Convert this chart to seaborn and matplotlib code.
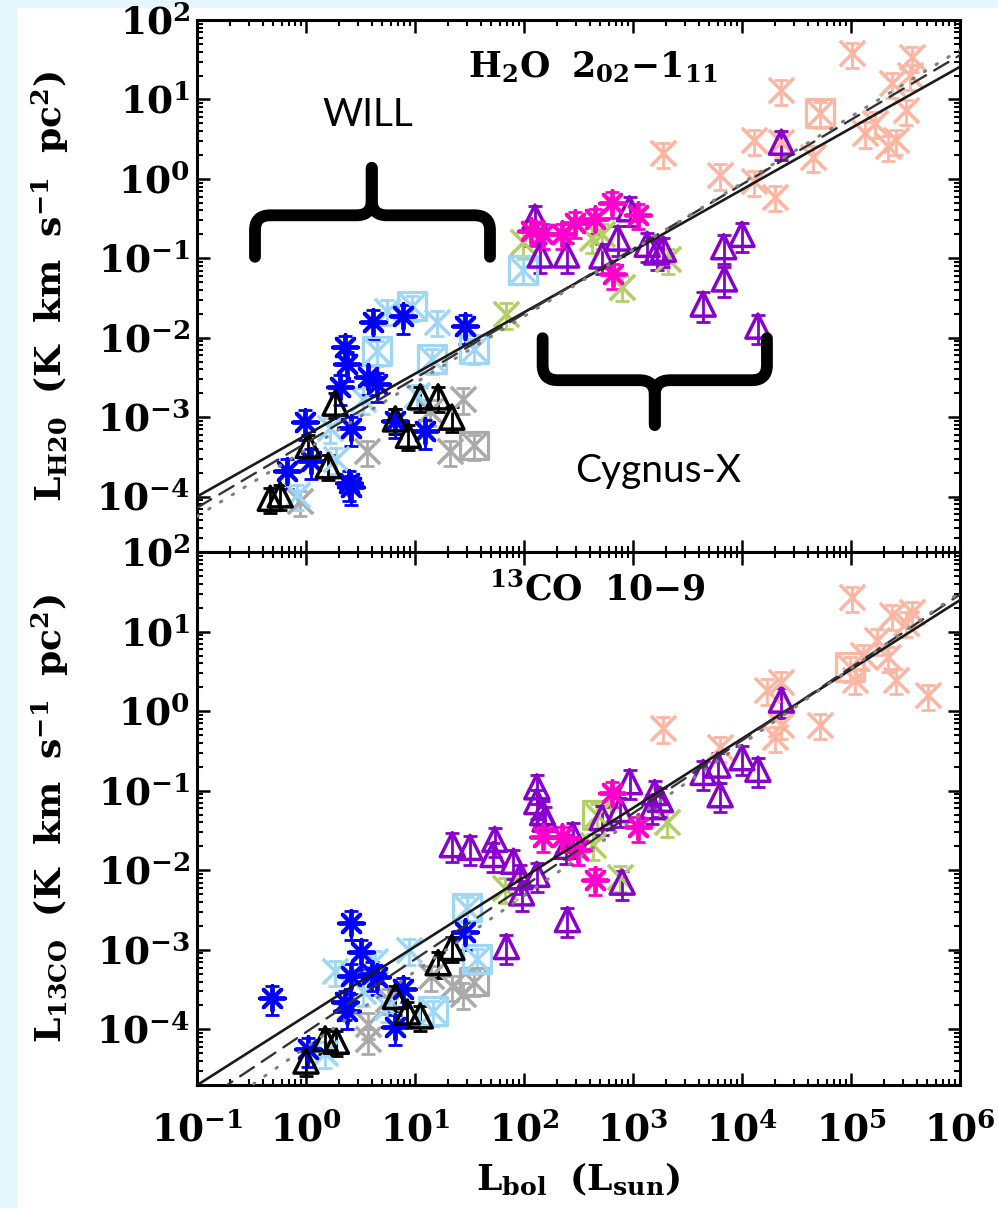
import numpy as np
import pandas as pd
import matplotlib
matplotlib.use("Agg")
import matplotlib.pyplot as plt
import seaborn as sns
from matplotlib.path import Path
from matplotlib.patches import PathPatch, Rectangle
from matplotlib.ticker import LogLocator, FixedLocator, FuncFormatter, NullFormatter

# ---------------- data: top panel (H2O 2_02-1_11) ----------------
blue_ast_top_x = [4.1, 7.8, 29, 2.3, 2.4, 3.7, 4.5, 2.05, 0.98, 2.6, 1.1, 0.67, 2.5, 2.6, 12.3, 6.6]
blue_ast_top_y = [0.016, 0.0186, 0.014, 0.0076, 0.0047, 0.0032, 0.0026, 0.0024, 8.7e-4, 7.2e-4,
                  2.8e-4, 2.1e-4, 1.48e-4, 1.3e-4, 6.6e-4, 9.0e-4]
lb_x_top_x = [5.5, 16, 3.3, 1.66, 1.9, 0.83, 10.5]
lb_x_top_y = [0.022, 0.016, 0.0017, 7.2e-4, 3.0e-4, 1.05e-4, 0.0019]
lb_box_top_x = [4.5, 9.4, 14.4, 35, 98]
lb_box_top_y = [0.0068, 0.025, 0.0054, 0.0072, 0.072]
k_tri_top_x = [0.47, 0.58, 1.05, 1.6, 1.85, 6.6, 8.7, 11.2, 16.3, 21.8]
k_tri_top_y = [9.5e-5, 1.05e-4, 4.4e-4, 2.45e-4, 1.5e-3, 9.5e-4, 5.9e-4, 1.8e-3, 1.8e-3, 1.0e-3]
gray_x_top_x = [3.6, 27.5, 13.8, 21, 0.88]
gray_x_top_y = [3.7e-4, 1.7e-3, 1.2e-3, 3.7e-4, 8.7e-5]
gray_box_top_x = [35]
gray_box_top_y = [4.4e-4]
green_x_top_x = [98, 420, 790, 2100, 69, 520]
green_x_top_y = [0.16, 0.18, 0.044, 0.098, 0.02, 0.2]
mag_ast_top_x = [115, 148, 224, 295, 450, 645, 1120, 660]
mag_ast_top_y = [0.22, 0.2, 0.2, 0.28, 0.31, 0.50, 0.355, 0.063]
pur_tri_top_x = [126, 141, 246, 930, 725, 520, 1350, 1650, 1900, 6800, 1e4, 6900, 4400, 1.4e4, 2.3e4]
pur_tri_top_y = [0.33, 0.11, 0.11, 0.42, 0.18, 0.107, 0.15, 0.12, 0.13, 0.14, 0.2, 0.055, 0.0265, 0.014, 2.9]
sal_x_top_x = [1.02e5, 3.6e5, 2.3e4, 2.4e5, 3.5e5, 3.2e5, 1.66e5, 1.35e5, 2.2e5, 2.6e5,
               1.3e4, 2.3e4, 4.5e4, 1.9e3, 6.3e3, 1.3e4, 2e4]
sal_x_top_y = [38.6, 34, 13.2, 16, 20.4, 7.4, 5.1, 3.8, 2.6, 3.1, 3.1, 2.9, 1.9, 2.1, 1.13, 0.93, 0.6]
sal_box_top_x = [5.2e4]
sal_box_top_y = [6.8]

# ---------------- data: bottom panel (13CO 10-9) ----------------
blue_ast_bot_x = [0.49, 2.6, 3.2, 2.6, 4.5, 4.0, 2.3, 2.4, 7.8, 6.6, 29, 1.05]
blue_ast_bot_y = [2.5e-4, 2.2e-3, 9.4e-4, 4.7e-4, 4.5e-4, 5.0e-4, 2.2e-4, 1.7e-4, 3.2e-4, 1.07e-4, 1.66e-3, 5.6e-5]
lb_x_bot_x = [8.9, 1.86, 4.3, 3.3, 5.5, 1.5]
lb_x_bot_y = [1.0e-3, 5.4e-4, 7.2e-4, 3.0e-4, 1.9e-4, 5.1e-5]
lb_box_bot_x = [30, 37, 14.7]
lb_box_bot_y = [3.4e-3, 7.6e-4, 1.7e-4]
k_tri_bot_x = [1.0, 1.5, 1.9, 6.6, 8.5, 11.2, 16.3, 21.8]
k_tri_bot_y = [4e-5, 7.6e-5, 7.1e-5, 2.6e-4, 1.66e-4, 1.48e-4, 6.9e-4, 1.07e-3]
gray_x_bot_x = [3.7, 3.7, 5.6, 14, 22, 27.5]
gray_x_bot_y = [1.18e-4, 7.5e-5, 2.4e-4, 4.7e-4, 3.5e-4, 2.8e-4]
gray_box_bot_x = [35]
gray_box_bot_y = [4.0e-4]
green_x_bot_x = [67, 430, 760, 2040]
green_x_bot_y = [0.006, 0.021, 0.0083, 0.04]
green_box_bot_x = [470]
green_box_bot_y = [0.05]
mag_ast_bot_x = [645, 148, 224, 310, 1120, 450]
mag_ast_bot_y = [0.095, 0.026, 0.026, 0.018, 0.035, 0.0076]
pur_tri_bot_x = [2.3e4, 22, 32, 54, 52, 80, 92, 95, 131, 131, 131, 148, 156, 245, 280, 520, 760, 930,
                 1580, 1780, 1510, 4400, 6000, 1e4, 1.4e4, 6300, 795, 250, 69]
pur_tri_bot_y = [1.38, 0.021, 0.0194, 0.0245, 0.0158, 0.013, 0.0083, 0.0052, 0.0089, 0.112, 0.073, 0.053,
                 0.044, 0.02, 0.028, 0.046, 0.058, 0.13, 0.095, 0.078, 0.063, 0.17, 0.21, 0.26, 0.186,
                 0.089, 0.0071, 0.0024, 0.0011]
sal_x_bot_x = [1.02e5, 2.4e5, 3.6e5, 3.2e5, 1.74e5, 1.3e5, 1.1e5, 2.2e5, 2.6e5, 5.1e5, 1.7e4, 2.3e4,
               2.3e4, 2e4, 5.2e4, 1.9e3, 6.3e3]
sal_x_bot_y = [27, 16, 17.7, 13, 7.9, 5.1, 2.5, 4.8, 2.5, 1.6, 1.86, 2.3, 0.68, 0.47, 0.68, 0.62, 0.35]
sal_box_bot_x = [9.8e4]
sal_box_bot_y = [3.6]

# fits: log10(L) = a + b*log10(Lbol)  (solid, dashed, dotted)
fit_top_a = [-3.227, -3.326, -3.41]
fit_top_b = [0.773, 0.814, 0.839]
fit_bot_a = [-3.83, -4.035, -4.226]
fit_bot_b = [0.871, 0.917, 0.953]

# tick values
x_ticks = [1e-1, 1e0, 1e1, 1e2, 1e3, 1e4, 1e5, 1e6]
y_ticks = [1e-4, 1e-3, 1e-2, 1e-1, 1e0, 1e1, 1e2]

rel_err = {"blue": 0.4, "lb": 0.35, "k": 0.35, "gray": 0.35, "green": 0.35, "mag": 0.35, "pur": 0.4, "sal": 0.35}

C = {"blue": "#0000ff", "lb": "#9dd6f6", "k": "#000000", "gray": "#aaaaaa",
     "green": "#b2cf66", "mag": "#ff00cc", "pur": "#8800cc", "sal": "#fcb6a2"}

AST = (8, 2, 0)

sns.set_theme(style="ticks")
plt.rcParams["mathtext.fontset"] = "dejavuserif"
plt.rcParams["font.family"] = ["DejaVu Serif"]

fig = plt.figure(figsize=(9.98, 12.08), dpi=100, facecolor="#e4f7fc")
fig.patches.append(Rectangle((0.017, 0.0), 0.983, 0.9934, transform=fig.transFigure,
                             facecolor="white", edgecolor="none", zorder=-10))
ax1 = fig.add_axes([0.1974, 0.5430, 0.7645, 0.4404])
ax2 = fig.add_axes([0.1974, 0.1018, 0.7645, 0.4412])


def errbars(ax, x, y, key):
    y = np.asarray(y, float)
    ax.errorbar(x, y, yerr=rel_err[key] * y, fmt="none", ecolor=C[key], elinewidth=2.0,
                capsize=5.0, capthick=2.0, zorder=2)


def draw_group(ax, x, y, key, kind):
    errbars(ax, x, y, key)
    df = pd.DataFrame({"x": x, "y": y})
    if kind == "tri":
        sns.scatterplot(data=df, x="x", y="y", ax=ax, marker="^", s=300, facecolor="none",
                        edgecolor=C[key], linewidth=2.5, legend=False, zorder=3)
    elif kind == "ast":
        sns.scatterplot(data=df, x="x", y="y", ax=ax, marker=AST, s=320, color=C[key],
                        linewidth=2.8, legend=False, zorder=3)
    elif kind == "x":
        sns.scatterplot(data=df, x="x", y="y", ax=ax, marker="x", s=330, color=C[key],
                        linewidth=2.6, legend=False, zorder=3)
    elif kind == "box":
        sns.scatterplot(data=df, x="x", y="y", ax=ax, marker="s", s=400, facecolor="none",
                        edgecolor=C[key], linewidth=2.3, legend=False, zorder=3)
        sns.scatterplot(data=df, x="x", y="y", ax=ax, marker="x", s=300, color=C[key],
                        linewidth=2.5, legend=False, zorder=3)


top_groups = [
    (sal_x_top_x, sal_x_top_y, "sal", "x"), (sal_box_top_x, sal_box_top_y, "sal", "box"),
    (gray_x_top_x, gray_x_top_y, "gray", "x"), (gray_box_top_x, gray_box_top_y, "gray", "box"),
    (lb_x_top_x, lb_x_top_y, "lb", "x"), (lb_box_top_x, lb_box_top_y, "lb", "box"),
    (green_x_top_x, green_x_top_y, "green", "x"),
    (blue_ast_top_x, blue_ast_top_y, "blue", "ast"),
    (k_tri_top_x, k_tri_top_y, "k", "tri"),
    (pur_tri_top_x, pur_tri_top_y, "pur", "tri"),
    (mag_ast_top_x, mag_ast_top_y, "mag", "ast"),
]
bot_groups = [
    (sal_x_bot_x, sal_x_bot_y, "sal", "x"), (sal_box_bot_x, sal_box_bot_y, "sal", "box"),
    (gray_x_bot_x, gray_x_bot_y, "gray", "x"), (gray_box_bot_x, gray_box_bot_y, "gray", "box"),
    (lb_x_bot_x, lb_x_bot_y, "lb", "x"), (lb_box_bot_x, lb_box_bot_y, "lb", "box"),
    (green_x_bot_x, green_x_bot_y, "green", "x"), (green_box_bot_x, green_box_bot_y, "green", "box"),
    (blue_ast_bot_x, blue_ast_bot_y, "blue", "ast"),
    (k_tri_bot_x, k_tri_bot_y, "k", "tri"),
    (pur_tri_bot_x, pur_tri_bot_y, "pur", "tri"),
    (mag_ast_bot_x, mag_ast_bot_y, "mag", "ast"),
]

line_styles = [dict(color="#1a1a1a", lw=1.9, ls="-"),
               dict(color="#333333", lw=1.7, ls=(0, (7, 4))),
               dict(color="#808080", lw=2.2, ls=(0, (0.5, 4.0)))]


def decorate(ax, groups, fa, fb, ylabel, show_xlabels):
    for g in groups:
        draw_group(ax, *g)
    lx = np.array([0.1, 1e6])
    for a, b, st in zip(fa, fb, line_styles):
        ly = 10 ** (a + b * np.log10(lx))
        sns.lineplot(x=lx, y=ly, ax=ax, color=st["color"], linewidth=st["lw"],
                     linestyle=st["ls"], zorder=4, legend=False,
                     dash_capstyle="round")
    ax.set_xscale("log")
    ax.set_yscale("log")
    ax.set_xlim(0.1, 1e6)
    ax.set_ylim(2e-5, 100)
    ax.xaxis.set_major_locator(FixedLocator(x_ticks))
    ax.yaxis.set_major_locator(FixedLocator(y_ticks))
    for axis in (ax.xaxis, ax.yaxis):
        axis.set_minor_locator(LogLocator(base=10, subs=np.arange(2, 10), numticks=20))
        axis.set_minor_formatter(NullFormatter())
    fmt = FuncFormatter(lambda v, p: r"$\mathbf{10^{%d}}$" % int(round(np.log10(v))))
    ax.yaxis.set_major_formatter(fmt)
    if show_xlabels:
        ax.xaxis.set_major_formatter(fmt)
    else:
        ax.xaxis.set_major_formatter(NullFormatter())
    ax.tick_params(which="major", direction="in", length=9, width=1.8, top=True, right=True,
                   labelsize=27, color="black", labelcolor="black")
    ax.tick_params(which="minor", direction="in", length=4.5, width=1.5, top=True, right=True,
                   color="black")
    ax.tick_params(axis="x", which="major", pad=20)
    ax.tick_params(axis="y", which="major", pad=5)
    for s in ax.spines.values():
        s.set_linewidth(2.2)
        s.set_color("black")
        s.set_visible(True)
    ax.set_facecolor("white")
    ax.grid(False)
    ax.set_xlabel("")
    ax.set_ylabel(ylabel, fontsize=26, color="black")
    ax.yaxis.set_label_coords(-0.165, 0.5)


decorate(ax1, top_groups, fit_top_a, fit_top_b,
         r"$\mathbf{L_{H20}\ \ (K\ \ km\ \ s^{-1}\ \ pc^{2})}$", False)
decorate(ax2, bot_groups, fit_bot_a, fit_bot_b,
         r"$\mathbf{L_{13CO}\ \ (K\ \ km\ \ s^{-1}\ \ pc^{2})}$", True)
ax2.set_xlabel(r"$\mathbf{L_{bol}\ \ (L_{sun})}$", fontsize=26, color="black")
ax2.xaxis.set_label_coords(0.5, -0.14)

ax1.text(0.355, 0.91, r"$\mathbf{H_2O\ \ 2_{02}{-}1_{11}}$", transform=ax1.transAxes,
         fontsize=25, ha="left", va="center", color="black")
ax2.text(0.383, 0.929, r"$\mathbf{^{13}CO\ \ 10{-}9}$", transform=ax2.transAxes,
         fontsize=25, ha="left", va="center", color="black")

ax1.text(0.224, 0.821, "WILL", transform=ax1.transAxes, fontsize=28, family=["Lato", "DejaVu Sans"],
         ha="center", va="center", color="black")
ax1.text(0.604, 0.152, "Cygnus-X", transform=ax1.transAxes, fontsize=28, family=["Lato", "DejaVu Sans"],
         ha="center", va="center", color="black")


def brace(ax, x0, x1, xc, ybar, yend, ytip):
    s = 1 if ytip > ybar else -1
    rx, ry = 0.02, 0.028
    for xe in (x0, x1):
        d = 1 if xc > xe else -1
        verts = [(xe, yend), (xe, ybar - s * ry), (xe, ybar), (xe + d * rx, ybar),
                 (xc - d * rx, ybar), (xc, ybar), (xc, ybar + s * ry), (xc, ytip)]
        codes = [Path.MOVETO, Path.LINETO, Path.CURVE3, Path.CURVE3, Path.LINETO,
                 Path.CURVE3, Path.CURVE3, Path.LINETO]
        p = PathPatch(Path(verts, codes), transform=ax.transAxes, fill=False, lw=8.5,
                      edgecolor="black", capstyle="round", joinstyle="round",
                      clip_on=False, zorder=5)
        ax.add_patch(p)


brace(ax1, 0.076, 0.384, 0.229, 0.633, 0.555, 0.722)
brace(ax1, 0.453, 0.747, 0.600, 0.323, 0.402, 0.239)

fig.savefig("out.png", dpi=100, facecolor=fig.get_facecolor())
